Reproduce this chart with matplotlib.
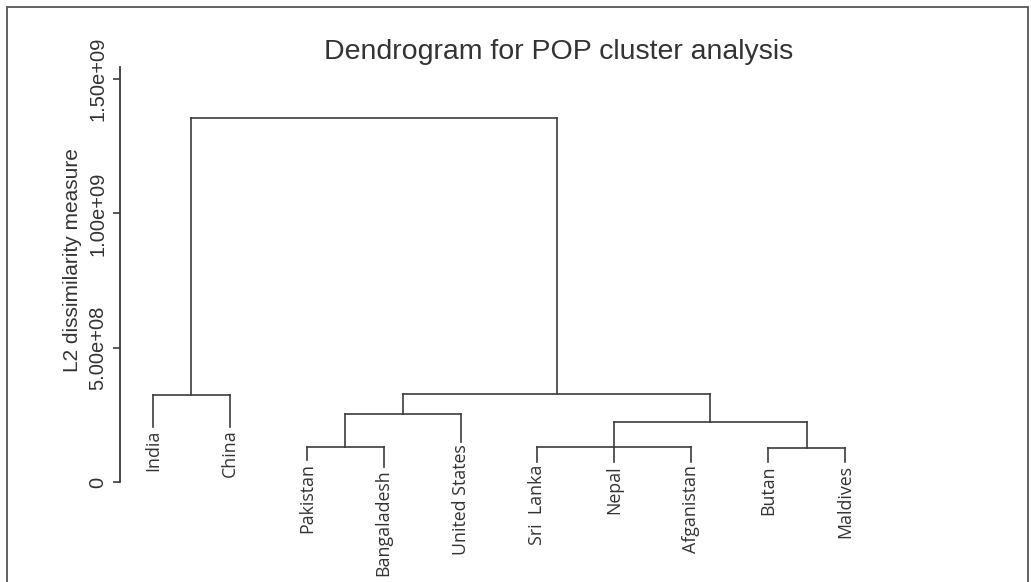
import matplotlib
matplotlib.use("Agg")
import matplotlib.pyplot as plt
from matplotlib.patches import Rectangle
from matplotlib.ticker import FuncFormatter

# ---- data ----
leaves = ["India", "China", "Pakistan", "Bangaladesh", "United States",
          "Sri  Lanka", "Nepal", "Afganistan", "Butan", "Maldives"]
# height at which each leaf line stops (label hangs below it)
leaf_ends = [0.205e9, 0.205e9, 0.082e9, 0.056e9, 0.149e9,
             0.074e9, 0.074e9, 0.074e9, 0.074e9, 0.074e9]
# merges: children refer to leaf index (<10) or earlier merge (10 + k)
merge_children = [(2, 3), (10, 4), (5, 6, 7), (8, 9), (12, 13),
                  (11, 14), (0, 1), (16, 15)]
merge_heights = [0.130e9, 0.253e9, 0.130e9, 0.127e9, 0.223e9,
                 0.327e9, 0.324e9, 1.355e9]
yticks = [0, 5.0e8, 1.0e9, 1.5e9]
title = "Dendrogram for POP cluster analysis"
ylabel = "L2 dissimilarity measure"

# ---- figure ----
W, H = 1031, 582
fig = plt.figure(figsize=(W / 100, H / 100), dpi=100)
fig.patch.set_facecolor("white")

def px(x0, y0, x1, y1):
    return [x0 / W, 1 - y1 / H, (x1 - x0) / W, (y1 - y0) / H]

ax = fig.add_axes(px(120, 67, 1000, 575))
line_kw = dict(color="#3c3c3c", lw=1.2, solid_capstyle="projecting")

n = len(leaves)
node_x = list(range(n))
node_top = list(leaf_ends)
for kids, h in zip(merge_children, merge_heights):
    xs = [node_x[c] for c in kids]
    for c in kids:
        ax.plot([node_x[c], node_x[c]], [node_top[c], h], **line_kw)
    ax.plot([min(xs), max(xs)], [h, h], **line_kw)
    node_x.append((min(xs) + max(xs)) / 2)
    node_top.append(h)

for i, name in enumerate(leaves):
    ax.annotate(name, xy=(i, leaf_ends[i]), xytext=(0, -2),
                textcoords="offset points", rotation=90, ha="center",
                va="top", fontsize=12.8, family="Open Sans", color="#333333")

# scales: 0 at y=482 px, 1.5e9 at y=79 px
per = (482 - 79) / 1.5e9
ax.set_ylim(-(575 - 482) / per, (482 - 67) / per)
sp = (845 - 153) / (n - 1)
ax.set_xlim(-(153 - 120) / sp, (n - 1) + (1000 - 845) / sp)

for s in ["top", "right", "bottom"]:
    ax.spines[s].set_visible(False)
ax.spines["left"].set_bounds(0, (482 - 67) / per)
ax.spines["left"].set_color("#3c3c3c")
ax.spines["left"].set_linewidth(1.3)
ax.xaxis.set_visible(False)
ax.set_yticks(yticks)
ax.yaxis.set_major_formatter(FuncFormatter(lambda v, p: "0" if v == 0 else "%.2e" % v))
ax.tick_params(axis="y", length=5, width=1.2, color="#3c3c3c", pad=4,
               labelsize=14.5, labelcolor="#333333")
for lbl in ax.get_yticklabels():
    lbl.set_rotation(90)
    lbl.set_va("center")
    lbl.set_family("Liberation Sans")
ax.patch.set_alpha(0)

ax.set_ylabel(ylabel, fontsize=15, family="Liberation Sans", color="#333333")
ax.yaxis.label.set_va("center")
ax.yaxis.set_label_coords((72 - 120) / 880, (575 - 260) / 508)

ax.set_title(title, fontsize=20.5, family="Liberation Sans", color="#333333",
             x=(559 - 120) / 880, y=(575 - 52) / 508, va="center", pad=0)

# outer frame (bottom edge runs off the image)
fig.patches.append(Rectangle((7 / W, -0.01), (1028 - 7) / W, 1 - 7 / H + 0.01,
                             transform=fig.transFigure, fill=False,
                             edgecolor="#555555", lw=1.3))

fig.savefig("out.png", dpi=100)
